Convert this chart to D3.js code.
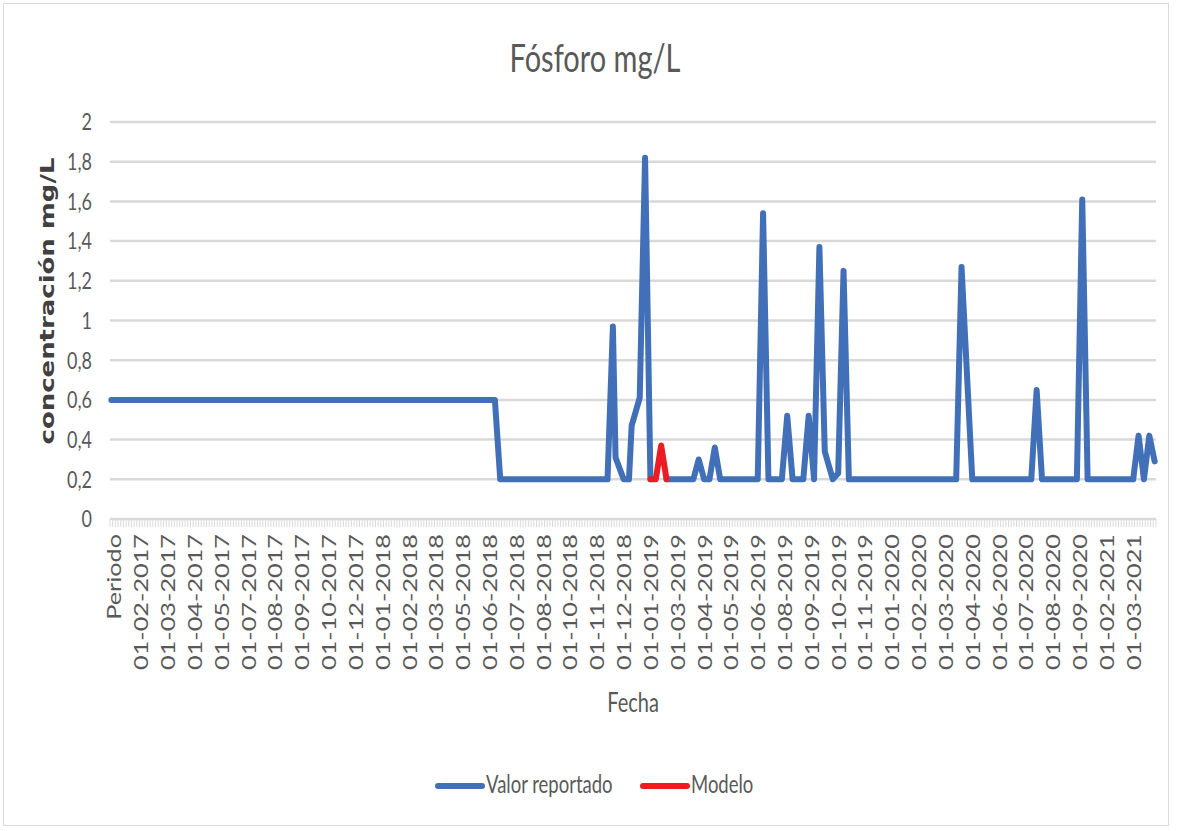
<!DOCTYPE html>
<html>
<head>
<meta charset="utf-8">
<script src="https://cdn.jsdelivr.net/npm/d3@7"></script>
<style>
  body { margin: 0; background: #fff; }
  text { font-family: Lato, "Open Sans", sans-serif; fill: #595959; }
</style>
</head>
<body>
<div id="container"></div>
<script>
//Fósforo mg/L - valor reportado vs modelo
//category axis (one category per sample), only every 10th label is shown

var nCategories = 390;
var labelStep = 10;
var tickLabels = ["Periodo", "01-02-2017", "01-03-2017", "01-04-2017", "01-05-2017", "01-07-2017",
    "01-08-2017", "01-09-2017", "01-10-2017", "01-12-2017", "01-01-2018", "01-02-2018", "01-03-2018",
    "01-05-2018", "01-06-2018", "01-07-2018", "01-08-2018", "01-10-2018", "01-11-2018", "01-12-2018",
    "01-01-2019", "01-03-2019", "01-04-2019", "01-05-2019", "01-06-2019", "01-08-2019", "01-09-2019",
    "01-10-2019", "01-11-2019", "01-01-2020", "01-02-2020", "01-03-2020", "01-04-2020", "01-06-2020",
    "01-07-2020", "01-08-2020", "01-09-2020", "01-02-2021", "01-03-2021"];
var yTicks = [0, 0.2, 0.4, 0.6, 0.8, 1, 1.2, 1.4, 1.6, 1.8, 2];

//line vertices: [category index, value]; null value = gap in the series
var reportadoIdx = [0, 143, 145, 185, 187, 188, 191, 193, 194, 197, 199, 201, 202,
    207, 217, 219, 221, 223, 225, 227, 241, 243, 245, 250, 252, 254, 258, 260, 262,
    264, 266, 269, 271, 273, 275, 315, 317, 321, 343, 345, 347, 360, 362, 364,
    381, 383, 385, 387, 389];
var reportadoVal = [0.6, 0.6, 0.2, 0.2, 0.97, 0.31, 0.2, 0.2, 0.47, 0.61, 1.82, 0.2, null,
    0.2, 0.2, 0.30, 0.2, 0.2, 0.36, 0.2, 0.2, 1.54, 0.2, 0.2, 0.52, 0.2, 0.2, 0.52, 0.2,
    1.37, 0.34, 0.2, 0.23, 1.25, 0.2, 0.2, 1.27, 0.2, 0.2, 0.65, 0.2, 0.2, 1.61, 0.2,
    0.2, 0.42, 0.2, 0.42, 0.29];
var modeloIdx = [201, 203, 205, 207];
var modeloVal = [0.2, 0.2, 0.37, 0.2];

var width = 1177, height = 831;
var margin = {left: 110, right: 21, top: 122, bottom: 312};
var plotW = width - margin.left - margin.right,
    plotH = height - margin.top - margin.bottom;
var stretch = 1.33; //text in the original is drawn taller than wide
var comma = d3.formatLocale({decimal: ",", thousands: ".", grouping: [3], currency: ["", ""]}).format("~g");

var svg = d3.select("#container").append("svg")
    .attr("width", width)
    .attr("height", height);

//outer frame
svg.append("rect")
    .attr("x", 3.5).attr("y", 3.5)
    .attr("width", 1165).attr("height", 822)
    .attr("fill", "#fff")
    .attr("stroke", "#d9d9d9");

var g = svg.append("g").attr("transform", "translate(" + margin.left + "," + margin.top + ")");

var x = d3.scaleBand()
    .domain(d3.range(nCategories))
    .range([0, plotW]);
var y = d3.scaleLinear()
    .domain([0, 2])
    .range([plotH, 0]);

function cx(i){ return x(i) + x.bandwidth() / 2; }

//gridlines
g.selectAll(".grid")
    .data(yTicks.slice(1))
    .enter()
    .append("line")
    .attr("class", "grid")
    .attr("x1", 0).attr("x2", plotW)
    .attr("y1", function(d){ return y(d); })
    .attr("y2", function(d){ return y(d); })
    .attr("stroke", "#d9d9d9")
    .attr("stroke-width", 2.5);

//y labels
g.selectAll(".ylab")
    .data(yTicks)
    .enter()
    .append("text")
    .attr("class", "ylab")
    .attr("text-anchor", "end")
    .attr("dy", "0.35em")
    .attr("transform", function(d){ return "translate(-18," + y(d) + ") scale(1," + stretch + ")"; })
    .style("font-size", "18px")
    .text(function(d){ return comma(d); });

//category axis line and ticks
g.append("line")
    .attr("x1", 0).attr("x2", plotW)
    .attr("y1", plotH).attr("y2", plotH)
    .attr("stroke", "#d9d9d9")
    .attr("stroke-width", 2.5);

g.selectAll(".xtick")
    .data(d3.range(nCategories + 1))
    .enter()
    .append("line")
    .attr("class", "xtick")
    .attr("x1", function(d){ return d * x.step(); })
    .attr("x2", function(d){ return d * x.step(); })
    .attr("y1", plotH).attr("y2", plotH + 8)
    .attr("stroke", "#d9d9d9")
    .attr("stroke-width", 1);

g.selectAll(".xlab")
    .data(tickLabels)
    .enter()
    .append("text")
    .attr("class", "xlab")
    .attr("text-anchor", "end")
    .attr("dy", "0.35em")
    .attr("transform", function(d, i){
        return "translate(" + (cx(i * labelStep) + 3.5) + "," + (plotH + 15) + ") rotate(-90) scale(" + stretch + ",1)";
    })
    .style("font-size", "19px")
    .text(function(d){ return d; });

//series
var line = d3.line()
    .defined(function(d){ return d[1] !== null; })
    .x(function(d){ return cx(d[0]); })
    .y(function(d){ return y(d[1]); });

var reportado = reportadoIdx.map(function(d, i){ return [d, reportadoVal[i]]; });
var modelo = modeloIdx.map(function(d, i){ return [d, modeloVal[i]]; });

g.append("path")
    .datum(reportado)
    .attr("d", line)
    .attr("fill", "none")
    .attr("stroke", "#4170b9")
    .attr("stroke-width", 6)
    .attr("stroke-linejoin", "round")
    .attr("stroke-linecap", "round");

g.append("path")
    .datum(modelo)
    .attr("d", line)
    .attr("fill", "none")
    .attr("stroke", "#ec1c24")
    .attr("stroke-width", 6)
    .attr("stroke-linejoin", "round")
    .attr("stroke-linecap", "round");

//titles
svg.append("text")
    .attr("text-anchor", "middle")
    .attr("transform", "translate(595,72) scale(1," + stretch + ")")
    .style("font-size", "29px")
    .text("Fósforo mg/L");

svg.append("text")
    .attr("text-anchor", "middle")
    .attr("transform", "translate(" + (margin.left + plotW / 2) + ",712) scale(1," + stretch + ")")
    .style("font-size", "20px")
    .text("Fecha");

svg.append("text")
    .attr("text-anchor", "middle")
    .attr("dy", "0.35em")
    .attr("transform", "translate(47,301) rotate(-90) scale(" + stretch + ",1)")
    .style("font-family", "'DejaVu Sans', sans-serif")
    .style("font-size", "19.5px")
    .style("font-weight", "bold")
    .style("fill", "#404040")
    .text("concentración mg/L");

//legend
var legendItems = [
    {name: "Valor reportado", color: "#4170b9", x: 438},
    {name: "Modelo", color: "#ec1c24", x: 643}
];
var legend = svg.selectAll(".legend")
    .data(legendItems)
    .enter()
    .append("g")
    .attr("class", "legend")
    .attr("transform", function(d){ return "translate(" + d.x + ",786)"; });

legend.append("line")
    .attr("x1", 0).attr("x2", 44)
    .attr("stroke", function(d){ return d.color; })
    .attr("stroke-width", 6)
    .attr("stroke-linecap", "round");

legend.append("text")
    .attr("transform", "translate(48,7) scale(1," + stretch + ")")
    .style("font-size", "18.5px")
    .text(function(d){ return d.name; });
</script>
</body>
</html>
